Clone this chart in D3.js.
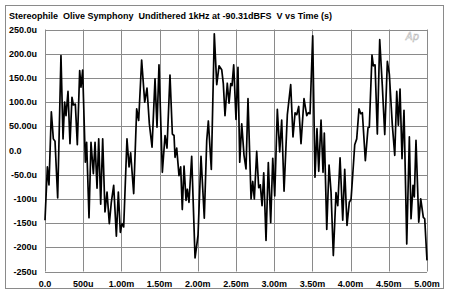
<!DOCTYPE html>
<html><head><meta charset="utf-8">
<script src="https://cdn.jsdelivr.net/npm/d3@7"></script>
<style>html,body{margin:0;padding:0;background:#fff;}svg{display:block;}</style>
</head><body>
<svg id="c" width="450" height="295"></svg>
<script>
const titleText = "Stereophile  Olive Symphony  Undithered 1kHz at -90.31dBFS  V vs Time (s)";
const xTicks = [0,500,1000,1500,2000,2500,3000,3500,4000,4500,5000];
const xTickLabels = ["0.0","500u","1.00m","1.50m","2.00m","2.50m","3.00m","3.50m","4.00m","4.50m","5.00m"];
const yTicks = [250,200,150,100,50,0,-50,-100,-150,-200,-250];
const yTickLabels = ["250.0u","200.0u","150.0u","100.0u","50.00u","0.0","-50.0u","-100u","-150u","-200u","-250u"];
// time in microseconds
const timeUs = [0,31,52,83,109,131,166,209,236,257,275,301,327,353,371,397,423,454,471,493,528,545,576,602,633,655,681,703,729,755,785,812,842,868,899,934,960,986,1008,1030,1073,1100,1121,1161,1200,1226,1265,1305,1335,1366,1401,1440,1466,1492,1536,1571,1597,1636,1667,1689,1702,1724,1754,1776,1797,1820,1846,1863,1885,1920,1964,1986,2003,2042,2085,2117,2138,2177,2216,2248,2278,2313,2334,2356,2386,2409,2431,2448,2470,2500,2526,2549,2575,2605,2631,2657,2697,2719,2740,2771,2797,2818,2841,2863,2893,2923,2954,2981,3007,3041,3072,3098,3129,3172,3216,3246,3273,3295,3321,3351,3390,3426,3447,3469,3504,3534,3560,3583,3613,3639,3656,3688,3718,3744,3774,3809,3832,3862,3897,3923,3953,3983,4006,4036,4054,4080,4110,4133,4154,4193,4228,4245,4280,4298,4320,4350,4381,4415,4447,4481,4507,4546,4578,4604,4625,4647,4673,4699,4735,4769,4791,4817,4834,4856,4892,4918,4952,4970,5000];
// voltage in microvolts
const voltUv = [-144,-34,-71,80,24,19,-98,196,24,100,72,122,14,110,94,96,12,165,131,166,-24,17,-139,17,-48,17,-78,24,-111,24,-127,-86,-151,-107,-72,-177,-86,-169,-151,-158,24,-34,-5,-89,86,62,187,100,129,55,7,148,48,177,-45,31,5,156,34,31,-14,5,-52,-34,-122,-32,-103,-80,-107,-12,-222,-196,-175,-12,-140,21,61,-39,241,136,175,167,138,72,139,98,138,134,177,64,172,-24,55,-10,-38,107,-100,-64,-100,-2,-77,-71,-114,-46,-186,-25,-149,-16,-94,85,-3,63,-84,74,136,28,78,74,91,14,107,72,78,76,237,-55,45,-43,63,-45,36,-163,-30,-86,-217,-87,-114,-15,-144,-39,-155,-107,-101,-31,12,24,86,76,78,-21,47,48,197,175,177,34,229,134,33,184,158,53,-10,122,52,127,-17,83,-193,28,-141,-72,-96,21,-148,-100,-138,-141,-227];

const svg = d3.select("#c");
const x = d3.scaleLinear().domain([0,5000]).range([45,427]);
const y = d3.scaleLinear().domain([-250,250]).range([271.5,29.5]);
const font = "'Liberation Sans', Arial, Helvetica, sans-serif";

// outer frame
svg.append("rect").attr("x",5.5).attr("y",5.5).attr("width",438).attr("height",283)
  .attr("fill","none").attr("stroke","#8a8a8a").attr("stroke-width",1);

// title
svg.append("text").attr("x",9).attr("y",19).attr("font-family",font).attr("font-weight","bold")
  .attr("font-size",9).attr("fill","#000").style("white-space","pre")
  .attr("textLength",323).attr("lengthAdjust","spacingAndGlyphs")
  .text(titleText);

// grid
svg.append("g").selectAll("line").data(xTicks).join("line")
  .attr("x1",d=>Math.round(x(d))+0.5).attr("x2",d=>Math.round(x(d))+0.5)
  .attr("y1",y(250)).attr("y2",y(-250)).attr("stroke","#8a8a8a").attr("stroke-width",1);
svg.append("g").selectAll("line").data(yTicks).join("line")
  .attr("x1",x(0)).attr("x2",x(5000))
  .attr("y1",d=>Math.round(y(d))+0.5).attr("y2",d=>Math.round(y(d))+0.5)
  .attr("stroke","#8a8a8a").attr("stroke-width",1);

// Ap logo
svg.append("text").attr("x",419).attr("y",40).attr("text-anchor","end")
  .attr("font-family","'DejaVu Sans', sans-serif").attr("font-style","italic").attr("font-size",10)
  .attr("fill","none").attr("stroke","#b0b0b0").attr("stroke-width",0.5).text("Ap");

// y labels
svg.append("g").selectAll("text").data(yTicks).join("text")
  .attr("x",(d,i)=> yTickLabels[i]==="0.0" ? 9 : 37)
  .attr("text-anchor",(d,i)=> yTickLabels[i]==="0.0" ? "start" : "end")
  .attr("y",d=>y(d)).attr("dy","0.35em")
  .attr("font-family",font).attr("font-weight","bold").attr("font-size",9).attr("fill","#000")
  .text((d,i)=>yTickLabels[i]);

// x labels
svg.append("g").selectAll("text").data(xTicks).join("text")
  .attr("x",d=>x(d)).attr("y",286.5).attr("text-anchor","middle")
  .attr("font-family",font).attr("font-weight","bold").attr("font-size",9).attr("fill","#000")
  .text((d,i)=>xTickLabels[i]);

// waveform
const pts = timeUs.map((t,i)=>[t,voltUv[i]]);
svg.append("path").datum(pts)
  .attr("d", d3.line().x(d=>x(d[0])).y(d=>y(d[1])))
  .attr("fill","none").attr("stroke","#000").attr("stroke-width",1.7).attr("stroke-linejoin","round");
</script>
</body></html>
